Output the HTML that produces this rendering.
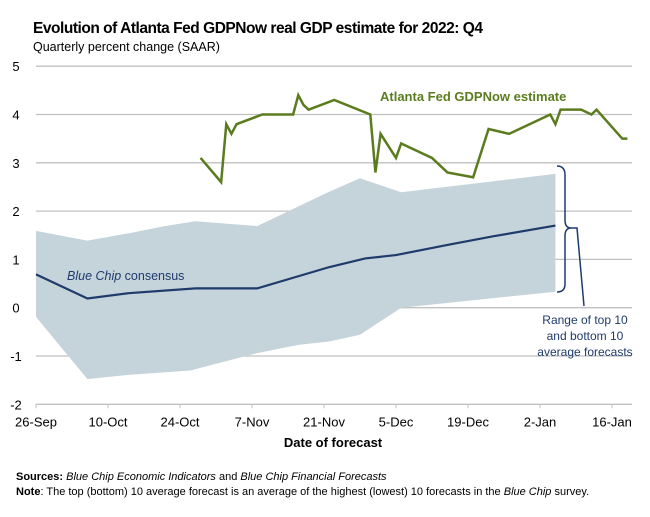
<!DOCTYPE html>
<html><head><meta charset="utf-8"><style>
body{margin:0;background:#fff;font-family:"Liberation Sans",sans-serif;}
svg{display:block}
</style></head><body>
<svg id="chart" width="650" height="517" xmlns="http://www.w3.org/2000/svg">
<text x="33" y="33" font-size="15.5" font-weight="bold" fill="#000" textLength="450">Evolution of Atlanta Fed GDPNow real GDP estimate for 2022: Q4</text>
<text x="33" y="51" font-size="12.5" fill="#000">Quarterly percent change (SAAR)</text>
<g id="grid"></g>
<g id="band"></g>
<g id="lines"></g>
<g id="xaxis"></g>
<g id="yaxis"></g>
<text x="380" y="101" font-size="13" font-weight="bold" fill="#5b7c1e">Atlanta Fed GDPNow estimate</text>
<text x="67" y="280" font-size="12.5" fill="#1f3b6b"><tspan font-style="italic">Blue Chip</tspan> consensus</text>
<path d="M557,166 Q565,166 565,175 L565,220 Q565,228 571,228 Q565,228 565,236 L565,284 Q565,292 557,292" fill="none" stroke="#1f3b6b" stroke-width="1.5"/>
<path d="M571,228 L577,228 L584,306" fill="none" stroke="#1f3b6b" stroke-width="1.5"/>
<g font-size="12" fill="#1f3b6b" text-anchor="middle">
<text x="585" y="324">Range of top 10</text>
<text x="585" y="340">and bottom 10</text>
<text x="585" y="356">average forecasts</text>
</g>
<text x="333" y="447" font-size="13" font-weight="bold" text-anchor="middle">Date of forecast</text>
<text x="16" y="480" font-size="11"><tspan font-weight="bold">Sources:</tspan> <tspan font-style="italic">Blue Chip Economic Indicators</tspan> and <tspan font-style="italic">Blue Chip Financial Forecasts</tspan></text>
<text x="16" y="495" font-size="11"><tspan font-weight="bold">Note</tspan>: The top (bottom) 10 average forecast is an average of the highest (lowest) 10 forecasts in the <tspan font-style="italic">Blue Chip</tspan> survey.</text>
</svg>
<script>
const xTickLabels=["26-Sep","10-Oct","24-Oct","7-Nov","21-Nov","5-Dec","19-Dec","2-Jan","16-Jan"];
const xTickDays=[0,14,28,42,56,70,84,98,112];
const yTicks=[5,4,3,2,1,0,-1,-2];
const gdpDays=[32,36,37,38,39,44,50,51,52,53,58,65,66,67,70,71,75,77,80,85,88,92,94,97,100,101,102,106,108,109,114,115];
const gdpVals=[3.1,2.6,3.8,3.6,3.8,4.0,4.0,4.4,4.2,4.1,4.3,4.0,2.8,3.6,3.1,3.4,3.2,3.1,2.8,2.7,3.7,3.6,3.7,3.85,4.0,3.8,4.1,4.1,4.0,4.1,3.5,3.5];
const bcDays=[0,10,18,31,43,57,64,70,80,89,101];
const bcVals=[0.69,0.19,0.30,0.40,0.40,0.84,1.02,1.09,1.30,1.48,1.70];
const upDays=[0,10,18,25,31,43,57,63,71,101];
const upVals=[1.59,1.39,1.54,1.69,1.79,1.69,2.4,2.68,2.39,2.77];
const loDays=[0,10,18,30,43,51,57,63,71,101];
const loVals=[-0.19,-1.48,-1.39,-1.3,-0.94,-0.77,-0.7,-0.56,0.0,0.33];

const NS="http://www.w3.org/2000/svg";
const X=d=>36+d*72/14;
const Y=v=>307.7-v*48.3;
function mk(tag,attrs,parent){const e=document.createElementNS(NS,tag);for(const k in attrs)e.setAttribute(k,attrs[k]);document.getElementById(parent).appendChild(e);return e;}
yTicks.forEach(v=>{
  const l=mk('line',{x1:36,x2:632,y1:Y(v),y2:Y(v),stroke:'#c0c0c0','stroke-width':1.3},'grid');
  
  
  const t=mk('text',{x:16,y:Y(v)+5,'font-size':13,'text-anchor':'middle'},'yaxis');
  t.textContent=v;
  
  
});
xTickDays.forEach((d,i)=>{
  const tk=mk('line',{x1:X(d),x2:X(d),y1:Y(-2),y2:Y(-2)+4,stroke:'#c0c0c0','stroke-width':1},'xaxis');
  
  
  const t=mk('text',{x:X(d),y:Y(-2)+22,'font-size':13,'text-anchor':'middle'},'xaxis');
  t.textContent=xTickLabels[i];
  
  
});
let bp=upDays.map((d,i)=>X(d)+','+Y(upVals[i]));
for(let i=loDays.length-1;i>=0;i--)bp.push(X(loDays[i])+','+Y(loVals[i]));
const band=mk('polygon',{points:bp.join(' '),fill:'#c5d3db'},'band');


const bc=mk('polyline',{points:bcDays.map((d,i)=>X(d)+','+Y(bcVals[i])).join(' '),fill:'none',stroke:'#1f3b6b','stroke-width':2.2},'lines');


const gl=mk('polyline',{points:gdpDays.map((d,i)=>X(d)+','+Y(gdpVals[i])).join(' '),fill:'none',stroke:'#5b7c1e','stroke-width':2.5,'stroke-linejoin':'miter'},'lines');


</script>
</body></html>
